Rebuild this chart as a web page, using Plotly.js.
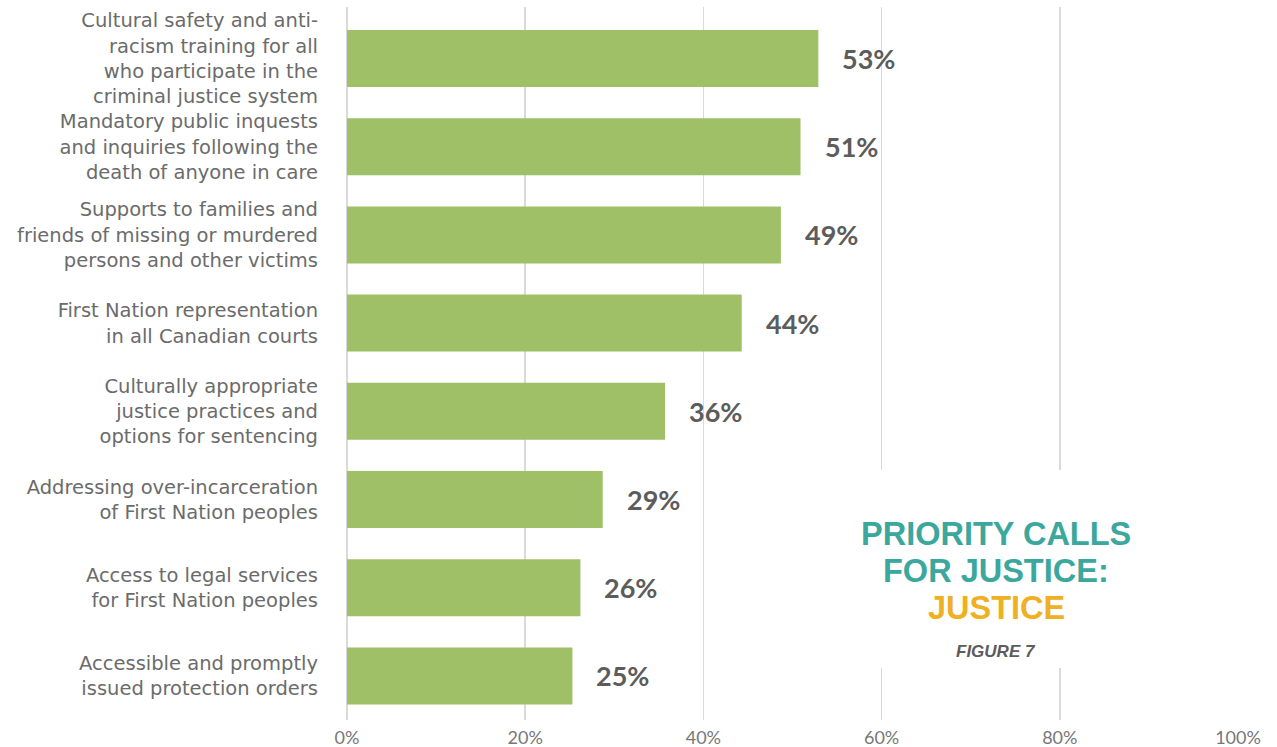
<!DOCTYPE html>
<html>
<head>
<meta charset="utf-8">
<script src="https://cdn.plot.ly/plotly-3.0.1.min.js"></script>
<style>
html,body{margin:0;padding:0;background:#fff;}
#chart{width:1277px;height:747px;}
</style>
</head>
<body>
<div id="chart"></div>
<script>
var categories = [
  "Cultural safety and anti-<br>racism training for all<br>who participate in the<br>criminal justice system",
  "Mandatory public inquests<br>and inquiries following the<br>death of anyone in care",
  "Supports to families and<br>friends of missing or murdered<br>persons and other victims",
  "First Nation representation<br>in all Canadian courts",
  "Culturally appropriate<br>justice practices and<br>options for sentencing",
  "Addressing over-incarceration<br>of First Nation peoples",
  "Access to legal services<br>for First Nation peoples",
  "Accessible and promptly<br>issued protection orders"
];
var values = [52.9, 50.9, 48.7, 44.3, 35.7, 28.7, 26.2, 25.3];
var valueLabels = ["53%", "51%", "49%", "44%", "36%", "29%", "26%", "25%"];
var tickValues = [0, 20, 40, 60, 80, 100];
var tickLabels = ["0%", "20%", "40%", "60%", "80%", "100%"];
var titleLines = ["PRIORITY CALLS", "FOR JUSTICE:", "JUSTICE"];
var figureLabel = "FIGURE 7";

var W = 1277, H = 747;
var M = {l: 347, r: 39, t: 7, b: 27};
var PW = W - M.l - M.r, PH = H - M.t - M.b;
function px(xp) { return (xp - M.l) / PW; }
function py(yp) { return (H - M.b - yp) / PH; }

var trace = {
  type: "bar",
  orientation: "h",
  x: values,
  y: categories,
  marker: {color: "#a0c067"},
  width: 0.646,
  hoverinfo: "skip"
};

var annotations = [];
for (var i = 0; i < values.length; i++) {
  annotations.push({
    x: values[i], y: categories[i], xref: "x", yref: "y",
    text: "<b>" + valueLabels[i] + "</b>", showarrow: false, xanchor: "left", yanchor: "middle",
    xshift: 22,
    font: {family: "Lato, 'Noto Sans', sans-serif", size: 27, color: "#5c5c5c"}
  });
}
var titleColors = ["#3ca79c", "#3ca79c", "#efb023"];
var titleY = [534, 571, 608];
for (var j = 0; j < titleLines.length; j++) {
  annotations.push({
    x: px(996), y: py(titleY[j]), xref: "paper", yref: "paper",
    text: "<b>" + titleLines[j] + "</b>", showarrow: false,
    xanchor: "center", yanchor: "middle", borderpad: 0,
    font: {family: "'Liberation Sans', Arial, sans-serif", size: 32.5, color: titleColors[j]}
  });
}
annotations.push({
  x: px(996), y: py(651), xref: "paper", yref: "paper",
  text: "<b><i>" + figureLabel + "</i></b>", showarrow: false,
  xanchor: "center", yanchor: "middle",
  font: {family: "'Liberation Sans', Arial, sans-serif", size: 17, color: "#5c5c5c"}
});

var layout = {
  width: W, height: H,
  margin: {l: M.l, r: M.r, t: M.t, b: M.b, pad: 0},
  paper_bgcolor: "#ffffff",
  plot_bgcolor: "#ffffff",
  showlegend: false,
  xaxis: {
    range: [0, 100],
    tickvals: tickValues,
    ticktext: tickLabels,
    showgrid: true,
    gridcolor: "#d9d9d9",
    gridwidth: 1.5,
    zeroline: true,
    zerolinecolor: "#d9d9d9",
    zerolinewidth: 1.5,
    showline: false,
    ticks: "",
    ticklabelstandoff: 5,
    tickfont: {family: "Lato, 'Noto Sans', sans-serif", size: 18, color: "#777777"},
    fixedrange: true
  },
  yaxis: {
    type: "category",
    range: [7.5, -0.584],
    showgrid: false,
    zeroline: false,
    showline: false,
    ticks: "",
    ticklabelstandoff: 28,
    tickfont: {family: "'DejaVu Sans', sans-serif", size: 19.5, color: "#6b6b6b"},
    fixedrange: true
  },
  shapes: [{
    type: "rect", xref: "paper", yref: "paper", layer: "above",
    x0: px(845), x1: px(1150), y0: py(668), y1: py(470),
    fillcolor: "#ffffff", line: {width: 0}
  }],
  annotations: annotations
};

Plotly.newPlot("chart", [trace], layout, {displayModeBar: false, staticPlot: true});
</script>
</body>
</html>
